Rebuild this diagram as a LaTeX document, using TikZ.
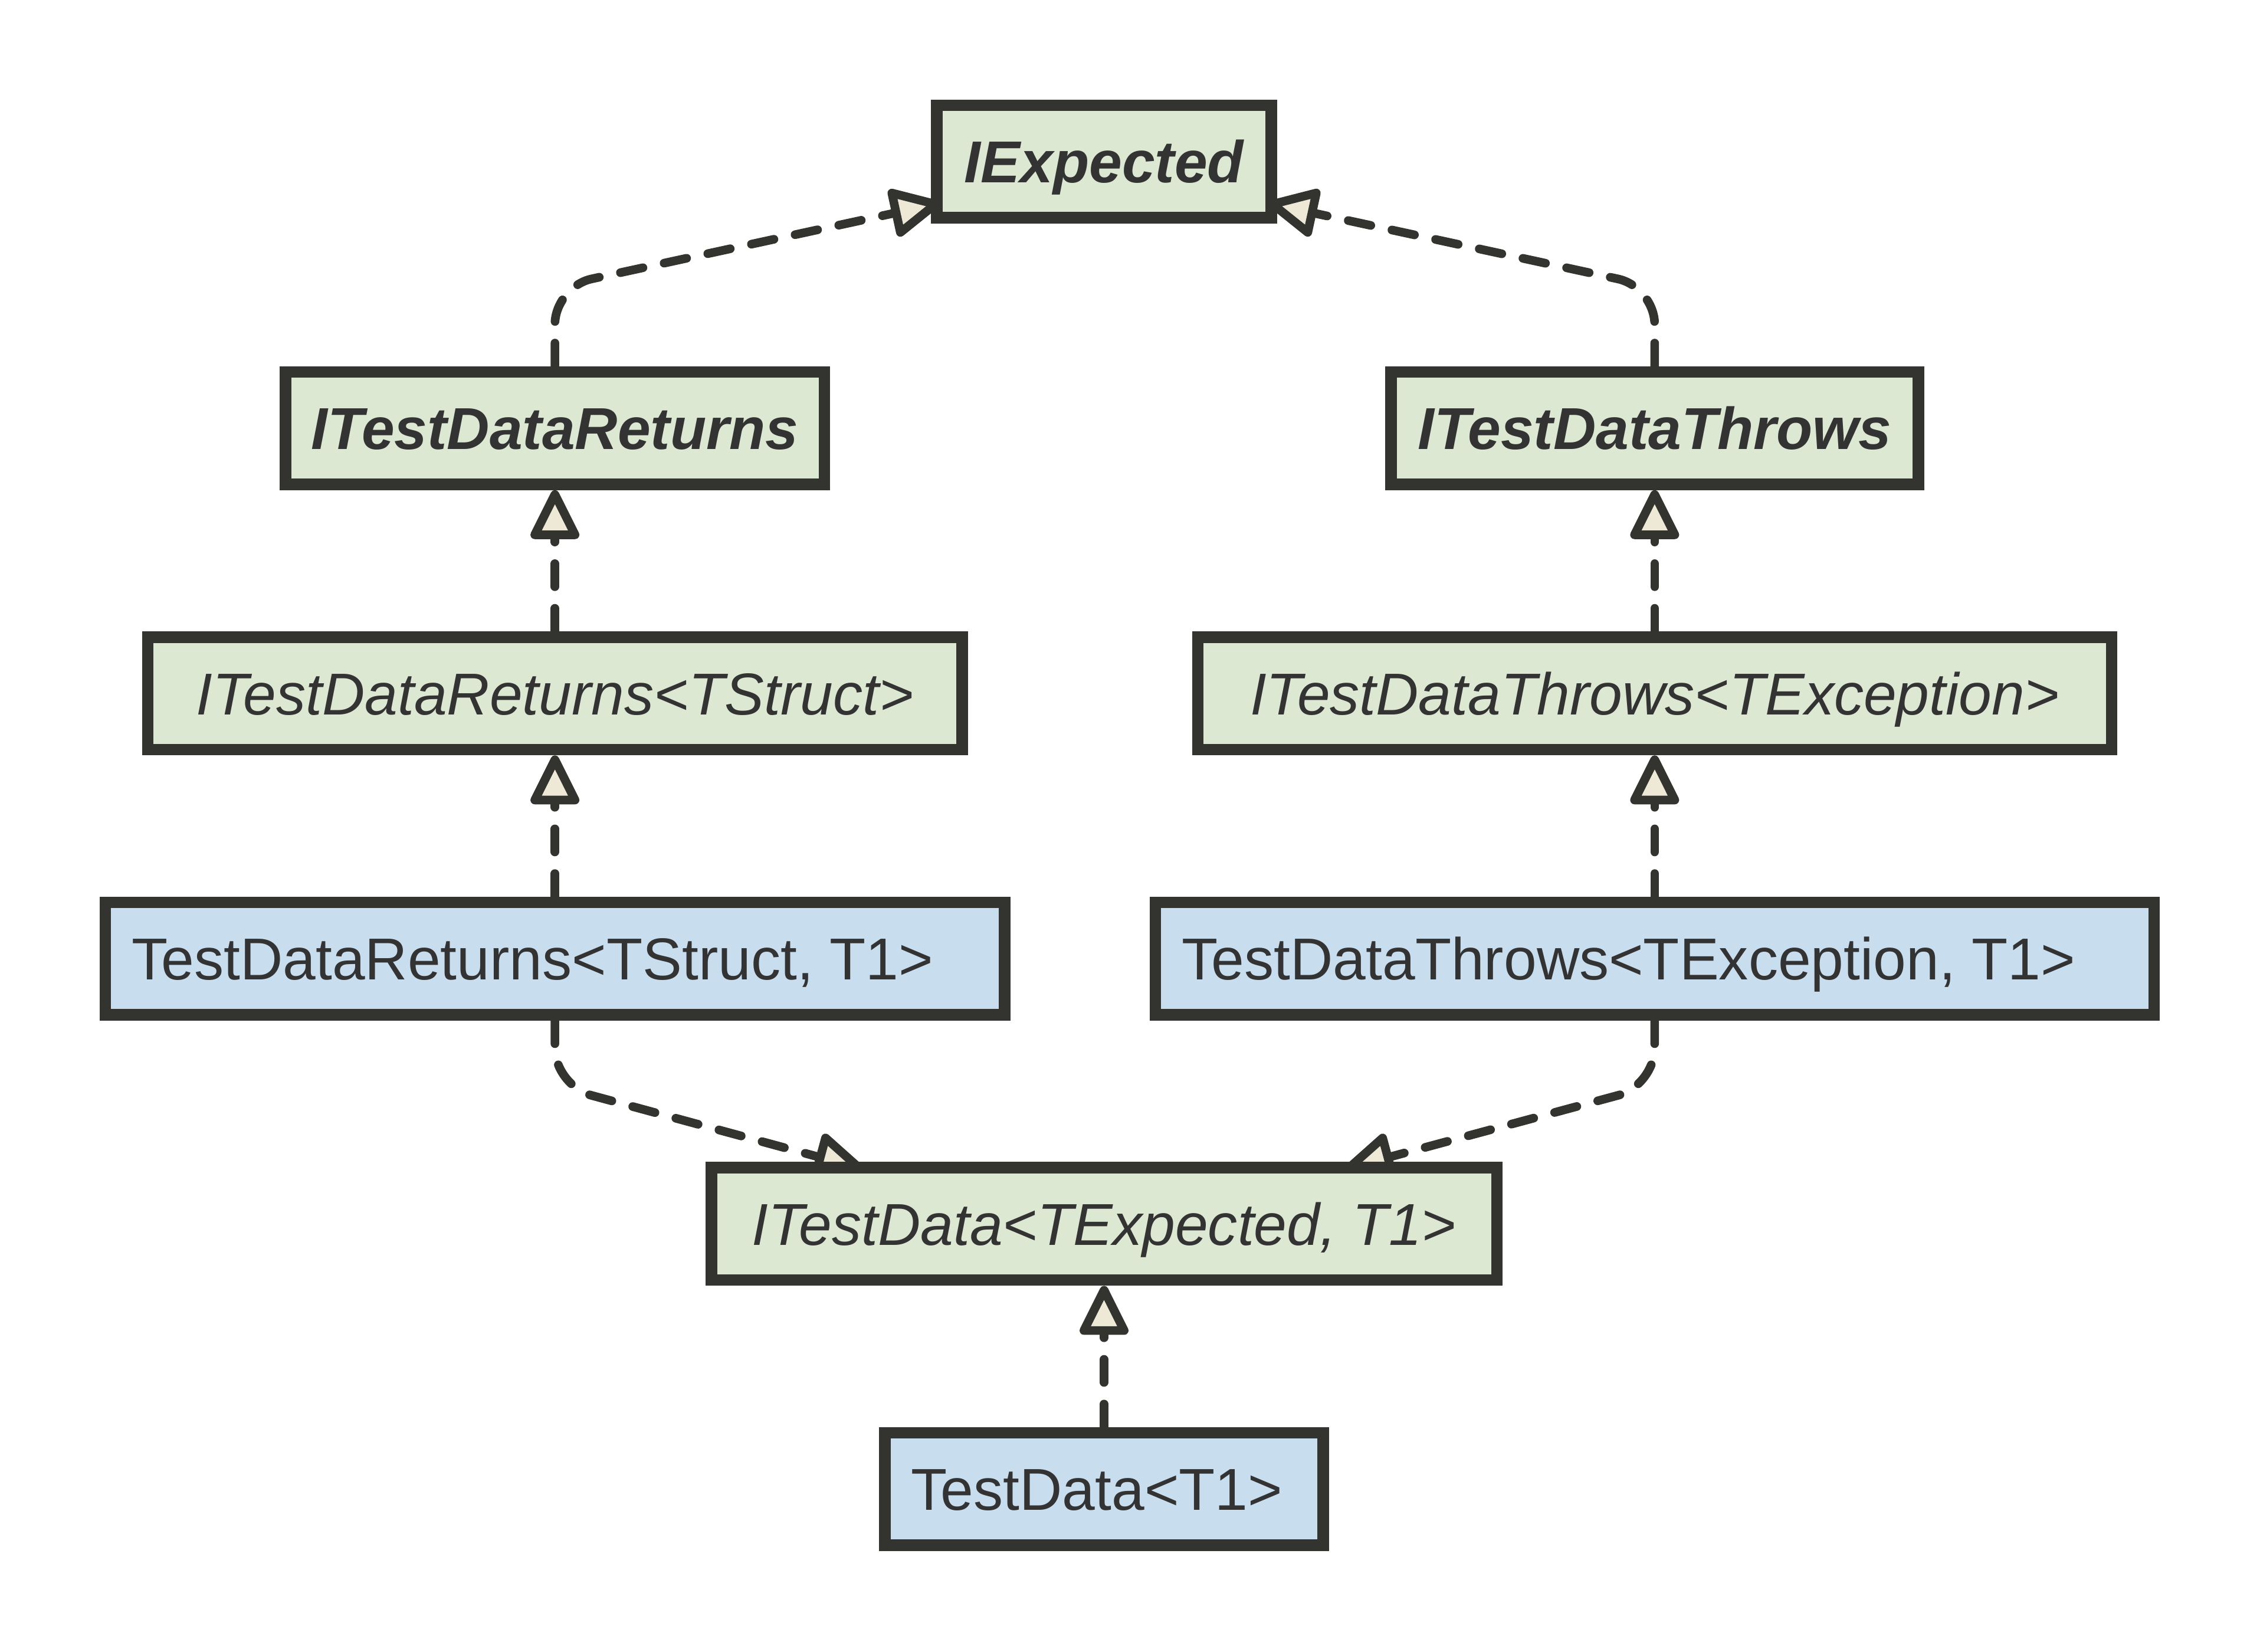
\documentclass[tikz,border=0pt]{standalone}
\usepackage{fontspec}
\setmainfont{Liberation Sans}
\usetikzlibrary{arrows.meta,backgrounds}
\definecolor{ink}{HTML}{33332F}
\definecolor{txt}{HTML}{333333}
\definecolor{ifill}{HTML}{DCE8D2}
\definecolor{cfill}{HTML}{C8DEEE}
\definecolor{afill}{HTML}{EEE8D6}
\tikzset{
  box/.style={draw=ink, line width=4pt, minimum height={43pt-4pt}, inner sep=0pt,
    text=txt, text height=14.7pt, text depth=0pt,
    font=\fontsize{20.5pt}{24pt}\selectfont},
  bw/.style={minimum width={#1*0.5pt+2pt-4pt}},
  iface/.style={box, fill=ifill},
  cls/.style={box, fill=cfill},
  real/.style={draw=ink, line width=3pt, line cap=round,
    dash pattern=on 8pt off 7.5pt, rounded corners=13pt,
    -{Triangle[round, length=19pt, width=18pt, fill=afill]}}
}
\begin{document}
\begin{tikzpicture}[x=0.5pt, y=-0.5pt]
\useasboundingbox (0,0) rectangle (1568,1146);
\node[iface, bw=236] (iexp) at (766,112) {\bfseries\itshape IExpected};
\node[iface, bw=378] (itr) at (385,297) {\bfseries\itshape ITestDataReturns};
\node[iface, bw=370] (itt) at (1148,297) {\bfseries\itshape ITestDataThrows};
\node[iface, bw=569] (itrs) at (385,481) {\itshape ITestDataReturns<TStruct>};
\node[iface, bw=638] (itte) at (1148,481) {\itshape ITestDataThrows<TException>};
\node[cls, bw=628] (tdr) at (385,665) {TestDataReturns<TStruct, T1>\hspace*{15.5pt}};
\node[cls, bw=697] (tdt) at (1148,665) {TestDataThrows<TException, T1>\hspace*{18pt}};
\node[iface, bw=549] (itd) at (766,849) {\itshape ITestData<TExpected, T1>};
\node[cls, bw=308] (td) at (766,1033) {TestData<T1>\hspace*{5pt}};
\coordinate (cl) at (385,199);
\coordinate (cr) at (1148,199);
\coordinate (bl) at (385,753);
\coordinate (br) at (1148,753);
\coordinate (tl) at (652,141);
\coordinate (tr) at (880,141);
\coordinate (dl) at (599,811);
\coordinate (dr) at (933,811);
\begin{scope}[on background layer]
\draw[real] (itr.north) -- (cl) -- (tl);
\draw[real] (itt.north) -- (cr) -- (tr);
\draw[real] (itrs.north) -- (itr.south);
\draw[real] (itte.north) -- (itt.south);
\draw[real] (tdr.north) -- (itrs.south);
\draw[real] (tdt.north) -- (itte.south);
\draw[real] (tdr.south) -- (bl) -- (dl);
\draw[real] (tdt.south) -- (br) -- (dr);
\draw[real] (td.north) -- (itd.south);
\end{scope}
\end{tikzpicture}
\end{document}
